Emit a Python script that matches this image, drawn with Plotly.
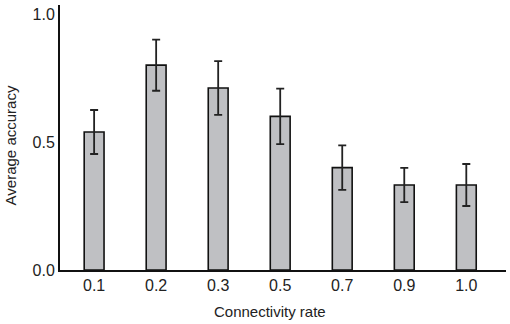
import plotly.graph_objects as go

categories = ["0.1", "0.2", "0.3", "0.5", "0.7", "0.9", "1.0"]
accuracy = [0.539, 0.80, 0.711, 0.60, 0.40, 0.332, 0.332]
errors = [0.086, 0.10, 0.105, 0.108, 0.087, 0.067, 0.082]
y_ticks = [0.0, 0.5, 1.0]
y_tick_labels = ["0.0", "0.5", "1.0"]

fig = go.Figure()
fig.add_trace(go.Bar(
    x=list(range(len(categories))),
    y=accuracy,
    width=0.32,
    marker=dict(color="#bfc0c3", line=dict(color="#111111", width=1.6)),
    error_y=dict(type="data", array=errors, visible=True, color="#222222",
                 thickness=1.8, width=4),
))

fig.update_layout(
    width=510, height=324,
    margin=dict(l=60, r=4, t=5, b=54),
    paper_bgcolor="white", plot_bgcolor="white",
    font=dict(family="Liberation Sans, Arial, sans-serif", color="#222222"),
    showlegend=False,
    xaxis=dict(
        range=[-0.55, 6.64],
        tickmode="array",
        tickvals=list(range(len(categories))),
        ticktext=categories,
        showline=True, linecolor="#111111", linewidth=2,
        showgrid=False, zeroline=False, ticks="",
        tickfont=dict(size=16),
        automargin=False,
    ),
    yaxis=dict(
        range=[0, 1.035],
        tickmode="array",
        tickvals=y_ticks,
        ticktext=y_tick_labels,
        showline=True, linecolor="#111111", linewidth=2,
        showgrid=False, zeroline=False, ticks="",
        tickfont=dict(size=16),
        automargin=False,
    ),
    annotations=[
        dict(text="Connectivity rate", xref="paper", yref="paper",
             x=0.47, y=-0.157, yanchor="middle", xanchor="center",
             showarrow=False, font=dict(size=15)),
        dict(text="Average accuracy", xref="paper", yref="paper",
             x=-0.11, xanchor="center", y=0.47, yanchor="middle",
             textangle=-90, showarrow=False, font=dict(size=15)),
    ],
)

fig.write_html("out.html", config={"displayModeBar": False},
               post_script="document.body.style.margin='0';")
